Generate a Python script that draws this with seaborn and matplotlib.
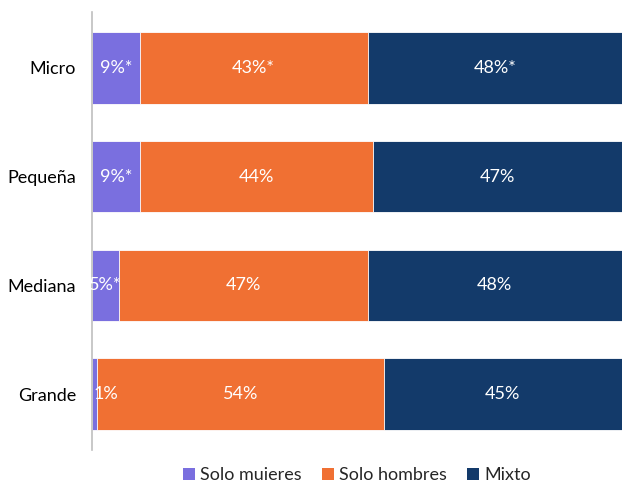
import matplotlib
matplotlib.use("Agg")
import matplotlib.pyplot as plt
import seaborn as sns
import pandas as pd
import numpy as np
from matplotlib.patches import Patch

categories = ["Micro", "Pequeña", "Mediana", "Grande"]
solo_mujeres = [9, 9, 5, 1]
solo_hombres = [43, 44, 47, 54]
mixto = [48, 47, 48, 45]
labels_mujeres = ["9%*", "9%*", "5%*", "1%"]
labels_hombres = ["43%*", "44%", "47%", "54%"]
labels_mixto = ["48%*", "47%", "48%", "45%"]
series_names = ["Solo muieres", "Solo hombres", "Mixto"]
colors = ["#7A6FDF", "#F07033", "#133A6A"]

sns.set_theme(style="white")
plt.rcParams["font.family"] = ["Lato", "DejaVu Sans"]

FS = 13

df = pd.DataFrame({
    "cat": categories,
    "m": solo_mujeres,
    "h": solo_hombres,
    "x": mixto,
})
df["cum_h"] = df["m"] + df["h"]
df["cum_x"] = df["cum_h"] + df["x"]

fig = plt.figure(figsize=(6.22, 4.82), dpi=100)
ax = fig.add_axes([92 / 622, 32 / 482, 530 / 622, 438 / 482])

# stacked layers drawn back to front as cumulative totals
for col, c in [("cum_x", colors[2]), ("cum_h", colors[1]), ("m", colors[0])]:
    sns.barplot(data=df, y="cat", x=col, color=c, orient="h", width=0.66,
                saturation=1, edgecolor="white", linewidth=0.6, ax=ax)

ax.set_xlim(0, 100)
ax.set_ylim(3.51, -0.51)
ax.set_xlabel("")
ax.set_ylabel("")
ax.set_xticks([])
ax.tick_params(axis="y", length=0, labelsize=FS, pad=11.5, colors="black")
for s in ["top", "right", "bottom"]:
    ax.spines[s].set_visible(False)
ax.spines["left"].set_color("#BFBFBF")
ax.spines["left"].set_linewidth(1.2)

for i in range(len(categories)):
    m, h, x = solo_mujeres[i], solo_hombres[i], mixto[i]
    segs = [(0, m, labels_mujeres[i]), (m, h, labels_hombres[i]), (m + h, x, labels_mixto[i])]
    for start, w, lab in segs:
        if w < 3:
            ax.text(start + 0.3, i, lab, ha="left", va="center", color="white", fontsize=FS)
        else:
            ax.text(start + w / 2, i, lab, ha="center", va="center", color="white", fontsize=FS)

handles = [Patch(facecolor=c, edgecolor="none") for c in colors]
ax.legend(handles, series_names, loc="center", bbox_to_anchor=(0.5, -0.058),
          ncol=3, frameon=False, fontsize=FS, handlelength=0.65, handleheight=0.65,
          handletextpad=0.3, columnspacing=1.1, borderpad=0)

fig.savefig("out.png", dpi=100)
